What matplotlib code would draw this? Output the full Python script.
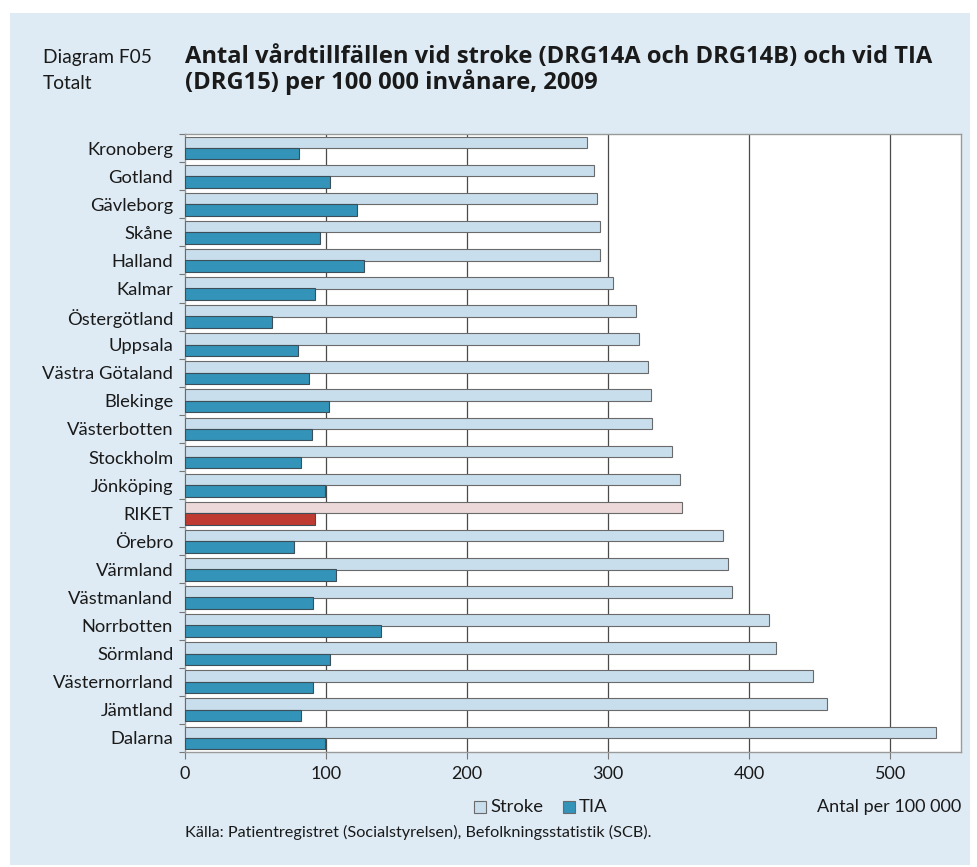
import matplotlib
matplotlib.use("Agg")
import matplotlib.pyplot as plt
from matplotlib.patches import Rectangle
import numpy as np

plt.rcParams['font.family'] = ['Lato', 'DejaVu Sans']

regions = ["Kronoberg", "Gotland", "Gävleborg", "Skåne", "Halland", "Kalmar",
           "Östergötland", "Uppsala", "Västra Götaland", "Blekinge", "Västerbotten",
           "Stockholm", "Jönköping", "RIKET", "Örebro", "Värmland", "Västmanland",
           "Norrbotten", "Sörmland", "Västernorrland", "Jämtland", "Dalarna"]
stroke = [285, 290, 292, 294, 294, 303, 320, 322, 328, 330, 331, 345, 351, 352,
          381, 385, 388, 414, 419, 445, 455, 532]
tia = [81, 103, 122, 96, 127, 92, 62, 80, 88, 102, 90, 82, 99, 92,
       77, 107, 91, 139, 103, 91, 82, 99]
xticks = [0, 100, 200, 300, 400, 500]
highlight = "RIKET"

W, H = 977, 867
fig = plt.figure(figsize=(W / 100, H / 100), dpi=100, facecolor="white")
bg = "#deebf4"
fig.patches.append(Rectangle((10 / W, 2 / H), 960 / W, (865 - 13) / H,
                             transform=fig.transFigure, facecolor=bg,
                             edgecolor="none", zorder=-10))

ax = fig.add_axes([185 / W, 1 - 752 / H, (961 - 185) / W, (752 - 134) / H])
ax.set_facecolor("white")

c_stroke, c_tia = "#c9deec", "#3393b8"
c_stroke_h, c_tia_h = "#ecd8d8", "#bf3a30"
edge = "#6a6a6a"
y = np.arange(len(regions))
sc = [c_stroke_h if r == highlight else c_stroke for r in regions]
tc = [c_tia_h if r == highlight else c_tia for r in regions]
ax.barh(y - 0.2, stroke, height=0.41, color=sc, edgecolor=edge, linewidth=0.8, zorder=3)
ax.barh(y + 0.2, tia, height=0.41, color=tc, edgecolor="#3d4f58", linewidth=0.8, zorder=3)

ax.set_xlim(0, 550)
ax.set_ylim(len(regions) - 0.5, -0.5)
ax.set_xticks(xticks)
ax.set_xticklabels([str(v) for v in xticks])
ax.set_yticks(y)
ax.set_yticklabels(regions)
ax.set_yticks(np.arange(-0.5, len(regions), 1.0), minor=True)
ax.tick_params(axis="y", which="major", length=0, pad=8.5, labelsize=13.2, labelcolor="#1a1a1a")
ax.tick_params(axis="y", which="minor", length=4, width=0.8, color="#777777", direction="out")
ax.tick_params(axis="x", which="major", length=5, width=0.8, color="#777777", direction="out",
               pad=5, labelsize=13, labelcolor="#1a1a1a")
for xv in xticks[1:]:
    ax.axvline(xv, color="#4a4a4a", linewidth=0.9, zorder=1)
for s in ax.spines.values():
    s.set_color("#9a9a9a")
    s.set_linewidth(1.0)

# Header texts
fig.text(43 / W, 1 - 63 / H, "Diagram F05", fontsize=13.8, color="#1a1a1a", va="baseline")
fig.text(43 / W, 1 - 89 / H, "Totalt", fontsize=13.8, color="#1a1a1a", va="baseline")
tfam = ["Open Sans", "DejaVu Sans"]
t1 = fig.text(185 / W, 1 - 63 / H,
              "Antal vårdtillfällen vid stroke (DRG14A och DRG14B) och vid TIA",
              fontsize=14, fontweight="bold", family=tfam, color="#1a1a1a", va="baseline")
t2 = fig.text(185 / W, 1 - 89 / H, "(DRG15) per 100 000 invånare, 2009",
              fontsize=14, fontweight="bold", family=tfam, color="#1a1a1a", va="baseline")
fig.canvas.draw()
w1 = t1.get_window_extent().width
fs = 14 * 750 / w1
t1.set_fontsize(fs)
t2.set_fontsize(fs)

# Legend
for i, (lab, col) in enumerate([("Stroke", c_stroke), ("TIA", c_tia)]):
    x0 = 474 if i == 0 else 563
    fig.patches.append(Rectangle((x0 / W, 1 - 813 / H), 12 / W, 12 / H,
                                 transform=fig.transFigure, facecolor=col,
                                 edgecolor=edge, linewidth=0.8))
    fig.text((x0 + 16) / W, 1 - 807 / H, lab, fontsize=13.3, color="#1a1a1a", va="center")
fig.text(961 / W, 1 - 807 / H, "Antal per 100 000", fontsize=13, color="#1a1a1a",
         va="center", ha="right")
fig.text(185 / W, 1 - 832 / H,
         "Källa: Patientregistret (Socialstyrelsen), Befolkningsstatistik (SCB).",
         fontsize=11.7, color="#1a1a1a", va="center")

fig.savefig("out.png", dpi=100, facecolor="white")
